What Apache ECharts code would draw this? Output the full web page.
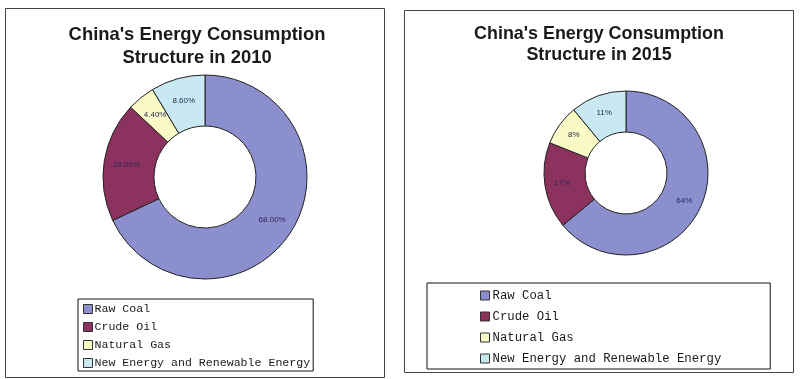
<!DOCTYPE html>
<html>
<head>
<meta charset="utf-8">
<script src="https://cdn.jsdelivr.net/npm/echarts@6/dist/echarts.min.js"></script>
<style>
html,body{margin:0;padding:0;background:#fff;}
#chart{width:800px;height:379px;}
</style>
</head>
<body>
<div id="chart"></div>
<script>
var categories = ['Raw Coal', 'Crude Oil', 'Natural Gas', 'New Energy and Renewable Energy'];
var values2010 = [68, 19, 4.4, 8.6];
var values2015 = [64, 17, 8, 11];
var title2010 = "China's Energy Consumption\nStructure in 2010";
var title2015 = "China's Energy Consumption\nStructure in 2015";
var colors = ['#8b8fcd', '#8c325f', '#fafac6', '#c8e9f1'];

function toData(vals) {
  return categories.map(function (c, i) { return { name: c, value: vals[i] }; });
}

var chart = echarts.init(document.getElementById('chart'));
var legendText = { fontFamily: 'Liberation Mono', color: '#1a1a1a' };

chart.setOption({
  animation: false,
  color: colors,
  title: [
    { text: title2010, left: 192, top: 18, textAlign: 'center',
      textStyle: { fontFamily: 'Liberation Sans', fontWeight: 'bold', fontSize: 18.4, lineHeight: 23, color: '#1a1a1a' } },
    { text: title2015, left: 594, top: 19, textAlign: 'center',
      textStyle: { fontFamily: 'Liberation Sans', fontWeight: 'bold', fontSize: 17.9, lineHeight: 21, color: '#1a1a1a' } }
  ],
  graphic: [
    { type: 'rect', shape: { x: 5.5, y: 8.5, width: 379, height: 369 }, style: { fill: 'none', stroke: '#444', lineWidth: 1 } },
    { type: 'rect', shape: { x: 404.5, y: 10.5, width: 389, height: 362 }, style: { fill: 'none', stroke: '#444', lineWidth: 1 } }
  ],
  legend: [
    { orient: 'vertical', left: 78, top: 299, data: categories, icon: 'rect',
      borderColor: '#111', borderWidth: 1, padding: [4, 3, 2, 5],
      itemWidth: 9, itemHeight: 9, itemGap: 6, selectedMode: false,
      itemStyle: { borderColor: '#333', borderWidth: 1 },
      textStyle: Object.assign({ fontSize: 11.6, lineHeight: 12, padding: [0, 0, 0, -3] }, legendText) },
    { orient: 'vertical', left: 427, top: 283, data: categories, icon: 'rect',
      borderColor: '#111', borderWidth: 1, padding: [6, 49, 4, 53],
      itemWidth: 9, itemHeight: 9, itemGap: 8, selectedMode: false,
      itemStyle: { borderColor: '#333', borderWidth: 1 },
      textStyle: Object.assign({ fontSize: 12.3, lineHeight: 13, padding: [0, 0, 0, -2] }, legendText) }
  ],
  series: [
    { type: 'pie', center: [205, 177], radius: [51, 102], startAngle: 90, clockwise: true,
      data: toData(values2010),
      itemStyle: { borderColor: '#222', borderWidth: 1 },
      label: { position: 'inside', fontSize: 8, fontFamily: 'Liberation Sans', color: '#2a2a55',
        formatter: function (p) { return p.value.toFixed(2) + '%'; } },
      labelLine: { show: false }, emphasis: { disabled: true } },
    { type: 'pie', center: [626, 173], radius: [41, 82], startAngle: 90, clockwise: true,
      data: toData(values2015),
      itemStyle: { borderColor: '#222', borderWidth: 1 },
      label: { position: 'inside', fontSize: 8, fontFamily: 'Liberation Sans', color: '#2a2a55',
        formatter: function (p) { return p.value + '%'; } },
      labelLine: { show: false }, emphasis: { disabled: true } }
  ]
});
</script>
</body>
</html>
